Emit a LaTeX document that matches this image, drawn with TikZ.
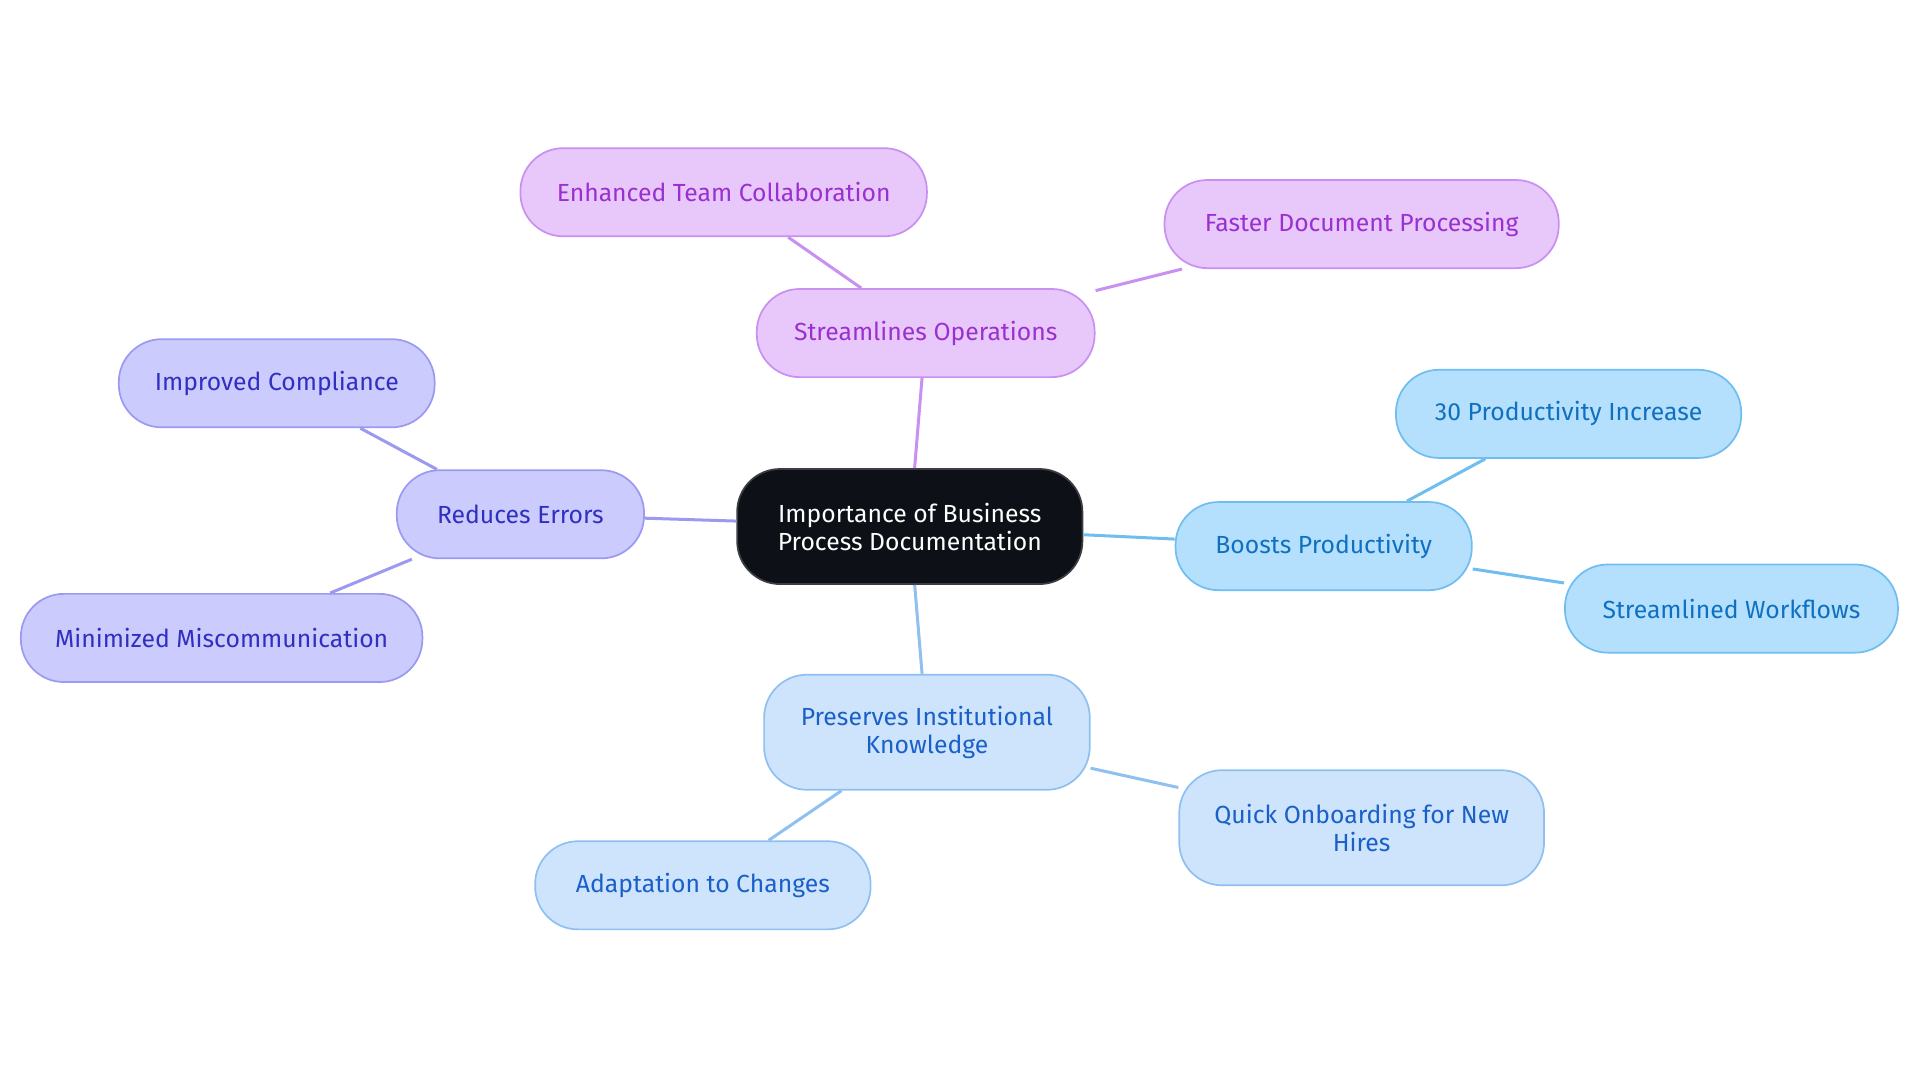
\documentclass[tikz,border=0pt]{standalone}
\usepackage{fontspec}
\setmainfont{Fira Sans}
\usetikzlibrary{positioning}
\definecolor{rootfill}{HTML}{0D1117}
\definecolor{purfill}{HTML}{E8C8FB}\definecolor{purline}{HTML}{C890F0}\definecolor{purtext}{HTML}{9A30D0}
\definecolor{vioFill}{HTML}{CCCBFD}\definecolor{violine}{HTML}{9B9AF0}\definecolor{viotext}{HTML}{3030C0}
\definecolor{skyfill}{HTML}{B5E0FD}\definecolor{skyline}{HTML}{70BDF0}\definecolor{skytext}{HTML}{1070C0}
\definecolor{bluefill}{HTML}{CDE4FC}\definecolor{blueline}{HTML}{90C0F0}\definecolor{bluetext}{HTML}{1A60C8}
\tikzset{
  box/.style={rectangle, rounded corners=0.7cm, minimum height=1.44cm, align=center, line width=0.8pt, font=\fontsize{11.5}{13}\selectfont},
  root/.style={box, fill=rootfill, draw=rootfill!60!gray, text=white, minimum height=1.88cm},
  pur/.style={box, fill=purfill, draw=purline, text=purtext},
  vio/.style={box, fill=vioFill, draw=violine, text=viotext},
  sky/.style={box, fill=skyfill, draw=skyline, text=skytext},
  blu/.style={box, fill=bluefill, draw=blueline, text=bluetext},
  link/.style={line width=1.4pt}
}
\begin{document}
\begin{tikzpicture}[x=0.02cm,y=-0.02cm]
\useasboundingbox (0,0) rectangle (1568,884);
%
\node (root) [root, minimum width=5.64cm] at (743,430) {Importance of Business\\Process Documentation};
%
\node (ops) [pur, minimum width=5.52cm] at (756,272) {Streamlines Operations};
\node (team) [pur, minimum width=6.64cm] at (591,157) {Enhanced Team Collaboration};
\node (faster) [pur, minimum width=6.44cm] at (1112,183) {Faster Document Processing};
%
\node (errors) [vio, minimum width=4.04cm] at (425,420) {Reduces Errors};
\node (comply) [vio, minimum width=5.16cm] at (226,313) {Improved Compliance};
\node (miscom) [vio, minimum width=6.56cm] at (181,521) {Minimized Miscommunication};
%
\node (boost) [sky, minimum width=4.84cm] at (1081,446) {Boosts Productivity};
\node (thirty) [sky, minimum width=5.64cm] at (1281,338) {30 Productivity Increase};
\node (flows) [sky, minimum width=5.44cm] at (1414,497) {Streamlined Workflows};
%
\node (know) [blu, minimum width=5.32cm, minimum height=1.88cm] at (757,598) {Preserves Institutional\\Knowledge};
\node (onboard) [blu, minimum width=5.96cm, minimum height=1.88cm] at (1112,676) {Quick Onboarding for New\\Hires};
\node (adapt) [blu, minimum width=5.48cm] at (574,723) {Adaptation to Changes};
%
\begin{scope}[on background layer/.try]
\end{scope}
\draw [link, purline] (root) -- (ops);
\draw [link, purline] (ops) -- (team);
\draw [link, purline] (ops) -- (faster);
\draw [link, violine] (root) -- (errors);
\draw [link, violine] (errors) -- (comply);
\draw [link, violine] (errors) -- (miscom);
\draw [link, skyline] (root) -- (boost);
\draw [link, skyline] (boost) -- (thirty);
\draw [link, skyline] (boost) -- (flows);
\draw [link, blueline] (root) -- (know);
\draw [link, blueline] (know) -- (onboard);
\draw [link, blueline] (know) -- (adapt);
%
\end{tikzpicture}
\end{document}
